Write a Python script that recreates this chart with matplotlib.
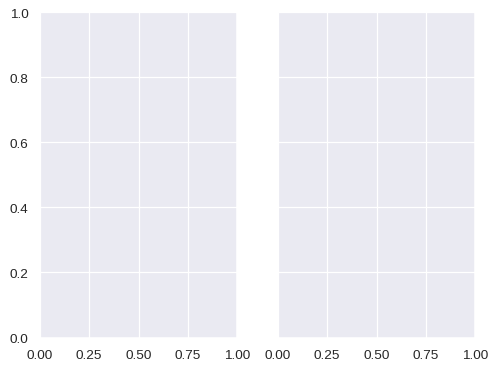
import matplotlib
matplotlib.use("Agg")
import matplotlib.pyplot as plt
import seaborn as sns

sns.set_theme(style="darkgrid")
plt.rcParams['font.family'] = ['Liberation Sans', 'DejaVu Sans']

x_ticks = [0.0, 0.25, 0.5, 0.75, 1.0]
y_ticks = [0.0, 0.2, 0.4, 0.6, 0.8, 1.0]

DPI = 88
W, H = 497, 370
fig = plt.figure(figsize=(W/DPI, H/DPI), dpi=DPI)
ax1 = fig.add_axes([40/W, 1-338.5/H, (237-40)/W, (338.5-13)/H])
ax2 = fig.add_axes([278/W, 1-338.5/H, (475-278)/W, (338.5-13)/H], sharey=ax1)
for ax in (ax1, ax2):
    ax.set_xlim(0, 1)
    ax.set_ylim(0, 1)
    ax.set_xticks(x_ticks)
    ax.set_yticks(y_ticks)
ax2.tick_params(labelleft=False)
fig.savefig("out.png", dpi=DPI)
